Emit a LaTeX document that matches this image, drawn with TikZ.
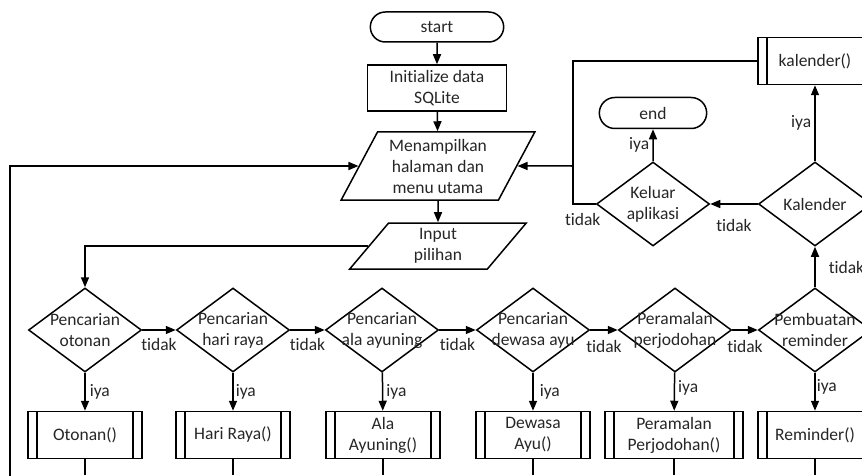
\documentclass[tikz,border=0pt]{standalone}
\usepackage{fontspec}
\setmainfont{Carlito}[Ligatures={NoCommon,NoRare,NoContextual}]
\usetikzlibrary{shapes.geometric,shapes.misc,arrows.meta}
\begin{document}
\begin{tikzpicture}[
			x=1pt, y=-1pt,
			font=\fontsize{17.5}{21}\selectfont,
			every node/.style={text=black!85},
			line/.style={line width=1.5pt},
			arr/.style={line, -{Triangle[length=10pt,width=8pt]}},
			terminal/.style={draw, line width=1.5pt, rounded rectangle, minimum width=140pt, minimum height=30pt},
			process/.style={draw, line width=1.5pt, rectangle, align=center, minimum width=139pt, minimum height=46pt},
			io/.style={draw, line width=1.5pt, trapezium, trapezium left angle=62, trapezium right angle=118,
				trapezium stretches=true, align=center, inner sep=1pt},
			decision/.style={draw, line width=1.5pt, diamond, minimum width=113pt, minimum height=84pt,
				inner sep=0pt, label={[align=center]center:#1}},
			subproc/.style={draw, line width=1.5pt, rectangle, align=center, minimum width=114pt, minimum height=47pt,
				path picture={
					\draw[line width=1.5pt] ([xshift=9pt]path picture bounding box.north west) -- ([xshift=9pt]path picture bounding box.south west);
					\draw[line width=1.5pt] ([xshift=-9pt]path picture bounding box.north east) -- ([xshift=-9pt]path picture bounding box.south east);
				}},
			lbl/.style={inner sep=1pt}
			]
			\clip (0,0) rectangle (862,476);
			\node[terminal] (start) at (437,27) {start};
			\node[process] (init) at (437,88) {Initialize data\\SQLite};
			\node[io, minimum width=194pt, minimum height=68pt] (menu) at (438,166) {Menampilkan\\halaman dan\\menu utama};
			\node[io, minimum width=178pt, minimum height=46pt] (input) at (438,246) {Input\\pilihan};
			\node[decision={Pencarian\\otonan}] (otonan) at (85,330) {};
			\node[decision={Pencarian\\hari raya}] (hariraya) at (233,330) {};
			\node[decision={Pencarian\\ala ayuning}] (alaayuning) at (382,330) {};
			\node[decision={Pencarian\\dewasa ayu}] (dewasaayu) at (533,330) {};
			\node[decision={Peramalan\\perjodohan}] (perjodohan) at (675,330) {};
			\node[decision={Pembuatan\\reminder}] (reminder) at (815,330) {};
			\node[subproc] (otonanbox) at (85,435) {Otonan()};
			\node[subproc] (hariraybox) at (233,435) {Hari Raya()};
			\node[subproc] (alabox) at (383,435) {Ala\\Ayuning()};
			\node[subproc] (dewasabox) at (533,435) {Dewasa\\Ayu()};
			\node[subproc, minimum width=138pt] (perjodohanbox) at (674,435) {Peramalan\\Perjodohan()};
			\node[subproc] (reminderbox) at (815,435) {Reminder()};
			\node[decision={Kalender}] (kalenderq) at (815,204) {};
			\node[decision={Keluar\\aplikasi}] (keluar) at (653,204) {};
			\node[subproc] (kalender) at (815,61) {kalender()};
			\node[terminal, minimum width=114pt, minimum height=31pt] (stop) at (653,113) {end};
			\coordinate (back) at (573,166);
			\coordinate (loop) at (10,490);
			\draw[arr] (start) -- (init);
			\draw[arr] (init) -- (menu);
			\draw[arr] (menu) -- (input);
			\draw[arr] (input.west) -| (otonan.north);
			\draw[arr] (otonan) -- node[lbl, below=7pt]{tidak} (hariraya);
			\draw[arr] (hariraya) -- node[lbl, below=7pt]{tidak} (alaayuning);
			\draw[arr] (alaayuning) -- node[lbl, below=7pt]{tidak} (dewasaayu);
			\draw[arr] (dewasaayu) -- node[lbl, below=9pt]{tidak} (perjodohan);
			\draw[arr] (perjodohan) -- node[lbl, below=9pt]{tidak} (reminder);
			\draw[arr] (otonan) -- node[lbl, right=3pt]{iya} (otonanbox);
			\draw[arr] (hariraya) -- node[lbl, right=1pt]{iya} (hariraybox);
			\draw[arr] (alaayuning) -- node[lbl, right=2pt]{iya} (alabox);
			\draw[arr] (dewasaayu) -- node[lbl, right=5pt]{iya} (dewasabox);
			\draw[arr] (perjodohan) -- node[lbl, right=2pt, yshift=4pt]{iya} (perjodohanbox);
			\draw[arr] (reminder) -- node[lbl, right=0pt, yshift=5pt]{iya} (reminderbox);
			\draw[arr] (reminder) -- node[lbl, right=12pt]{tidak} (kalenderq);
			\draw[arr] (kalenderq) -- node[lbl, below=14pt]{tidak} (keluar);
			\draw[arr] (kalenderq) -- node[lbl, left=2pt]{iya} (kalender);
			\draw[arr] (keluar) -- node[lbl, left=2pt]{iya} (stop);
			\draw[line] (keluar.west) node[lbl, below=8pt, xshift=-13pt]{tidak} -| (back);
			\draw[line] (kalender.west) -| (back);
			\draw[arr] (back) -- (menu);
			\draw[arr] (loop) |- (menu);
			\draw[line] (otonanbox) -- ++(0,40);
			\draw[line] (hariraybox) -- ++(0,40);
			\draw[line] (alabox) -- ++(0,40);
			\draw[line] (dewasabox) -- ++(0,40);
			\draw[line] (perjodohanbox) -- ++(0,40);
			\draw[line] (reminderbox) -- ++(0,40);
		\end{tikzpicture}
\end{document}
